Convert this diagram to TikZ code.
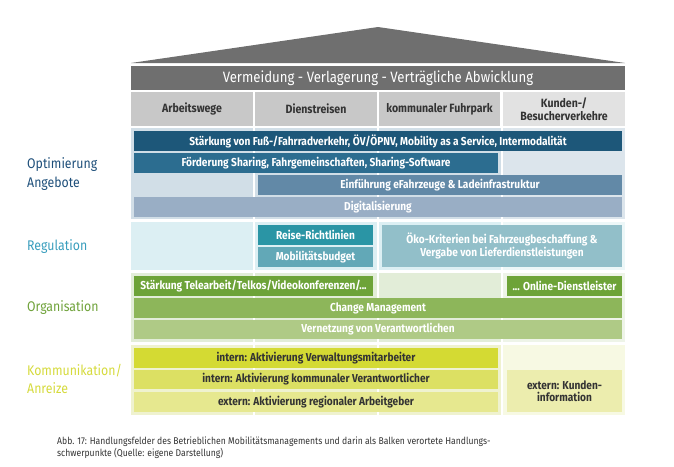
\documentclass[tikz,border=0pt]{standalone}
\usepackage{fontspec}
\setmainfont{Fira Sans}[FakeStretch=0.88]

\definecolor{roof}{HTML}{6F6F6F}
\definecolor{head}{HTML}{C8C8C8}
\definecolor{headlight}{HTML}{E2E2E2}
\definecolor{optbg}{HTML}{D1DEE7}
\definecolor{optbgr}{HTML}{DCE5EC}
\definecolor{opta}{HTML}{1D5779}
\definecolor{optb}{HTML}{2C6D90}
\definecolor{optc}{HTML}{6289A7}
\definecolor{optd}{HTML}{99AEC5}
\definecolor{regbg}{HTML}{DCEFF3}
\definecolor{regbgr}{HTML}{EDF7F8}
\definecolor{rega}{HTML}{2A95A5}
\definecolor{regb}{HTML}{62A8B7}
\definecolor{regc}{HTML}{92BFC9}
\definecolor{orgbg}{HTML}{E2EDD8}
\definecolor{orgbgr}{HTML}{EEF4E8}
\definecolor{orga}{HTML}{6DA338}
\definecolor{orgb}{HTML}{8DB65A}
\definecolor{orgc}{HTML}{AFCA86}
\definecolor{combg}{HTML}{EFF2CF}
\definecolor{combgr}{HTML}{F7F9E3}
\definecolor{coma}{HTML}{D4DA33}
\definecolor{comb}{HTML}{DCE063}
\definecolor{comc}{HTML}{E6E88F}
\definecolor{comd}{HTML}{ECEDAE}
\definecolor{optlab}{HTML}{1E4F7A}
\definecolor{reglab}{HTML}{3A9EBD}
\definecolor{orglab}{HTML}{6FA23A}
\definecolor{comlab}{HTML}{D5DA3C}
\definecolor{captxt}{HTML}{333333}

\begin{document}
\begin{tikzpicture}[x=1pt, y=-1pt,
	bar/.style = {rectangle, inner sep=0pt, minimum height=20, text=white,
		align=center, font=\bfseries\fontsize{11.5}{12.5}\selectfont},
	darkbar/.style = {bar, text=captxt},
	headcell/.style = {rectangle, inner sep=0pt, minimum width=122, minimum height=34,
		align=center, text=captxt, font=\bfseries\fontsize{12}{13}\selectfont},
	sidelabel/.style = {anchor=west, inner sep=0pt, align=left,
		font=\fontsize{14}{18.5}\selectfont}]
\useasboundingbox (0,0) rectangle (674,466);

% roof and title
\fill[roof] (131,63) -- (378,27) -- (625,63) -- cycle;
\node[rectangle, fill=roof, inner sep=0pt, minimum width=494, minimum height=24,
	text=white, font=\fontsize{15}{16}\selectfont] (t) at (378,78)
	{Vermeidung - Verlagerung - Verträgliche Abwicklung};

% column heads
\node[headcell, fill=head] (h1) at (192,109) {Arbeitswege};
\node[headcell, fill=head] (h2) at (316,109) {Dienstreisen};
\node[headcell, fill=head, minimum width=121] (h3) at (439.5,109) {kommunaler Fuhrpark};
\node[headcell, fill=headlight] (h4) at (564,109) {Kunden-/\\Besucherverkehre};

% section backgrounds
\fill[optbg] (131,128) rectangle (625,219);
\fill[optbgr] (502,128) rectangle (625,219);
\fill[regbg] (131,222) rectangle (625,270);
\fill[regbgr] (502,222) rectangle (625,270);
\fill[orgbg] (131,273) rectangle (625,342);
\fill[orgbgr] (502,273) rectangle (625,342);
\fill[combg] (131,345) rectangle (625,415);
\fill[combgr] (502,345) rectangle (625,415);
\foreach \x in {254,378,502}
	\fill[white] (\x-1,126) rectangle (\x+1,415);

% Optimierung Angebote
\node[bar, fill=opta, minimum width=488] (o1) at (378,141)
	{Stärkung von Fuß-/Fahrradverkehr, ÖV/ÖPNV, Mobility as a Service, Intermodalität};
\node[bar, fill=optb, minimum width=364] (o2) at (316,163)
	{Förderung Sharing, Fahrgemeinschaften, Sharing-Software};
\node[bar, fill=optc, minimum width=364] (o3) at (440,185)
	{Einführung eFahrzeuge \& Ladeinfrastruktur};
\node[bar, fill=optd, minimum width=488] (o4) at (378,207) {Digitalisierung};

% Regulation
\node[bar, fill=rega, minimum width=115] (r1) at (315.5,235) {Reise-Richtlinien};
\node[bar, fill=regb, minimum width=115] (r2) at (315.5,257) {Mobilitätsbudget};
\node[bar, fill=regc, minimum width=240, minimum height=42] (r3) at (502,246)
	{Öko-Kriterien bei Fahrzeugbeschaffung \&\\Vergabe von Lieferdienstleistungen};

% Organisation
\node[bar, fill=orga, minimum width=239] (g1) at (253.5,286)
	{Stärkung Telearbeit/Telkos/Videokonferenzen/...};
\node[bar, fill=orga, minimum width=115] (g2) at (564.5,286) {... Online-Dienstleister};
\node[bar, fill=orgb, minimum width=488] (g3) at (378,308) {Change Management};
\node[bar, fill=orgc, minimum width=488, minimum height=19] (g4) at (378,329.5)
	{Vernetzung von Verantwortlichen};

% Kommunikation/Anreize
\node[darkbar, fill=coma, minimum width=364] (k1) at (316,358)
	{intern: Aktivierung Verwaltungsmitarbeiter};
\node[darkbar, fill=comb, minimum width=364, minimum height=19] (k2) at (316,379.5)
	{intern: Aktivierung kommunaler Verantwortlicher};
\node[darkbar, fill=comc, minimum width=364] (k3) at (316,402)
	{extern: Aktivierung regionaler Arbeitgeber};
\node[darkbar, fill=comd, minimum width=115, minimum height=42] (k4) at (564.5,391)
	{extern: Kunden-\\information};

% side labels
\node[sidelabel, text=optlab] (lo) at (27,174) {Optimierung\\Angebote};
\node[sidelabel, text=reglab] (lr) at (27,247) {Regulation};
\node[sidelabel, text=orglab] (lg) at (27,308) {Organisation};
\node[sidelabel, text=comlab] (lk) at (27,379) {Kommunikation/\\Anreize};

% caption
\node[anchor=west, inner sep=0pt, align=left, text=captxt,
	font=\fontsize{9.8}{12.5}\selectfont] (cap) at (57,447.5)
	{Abb. 17: Handlungsfelder des Betrieblichen Mobilitätsmanagements und darin als Balken verortete Handlungs-\\
	schwerpunkte (Quelle: eigene Darstellung)};
\end{tikzpicture}
\end{document}
